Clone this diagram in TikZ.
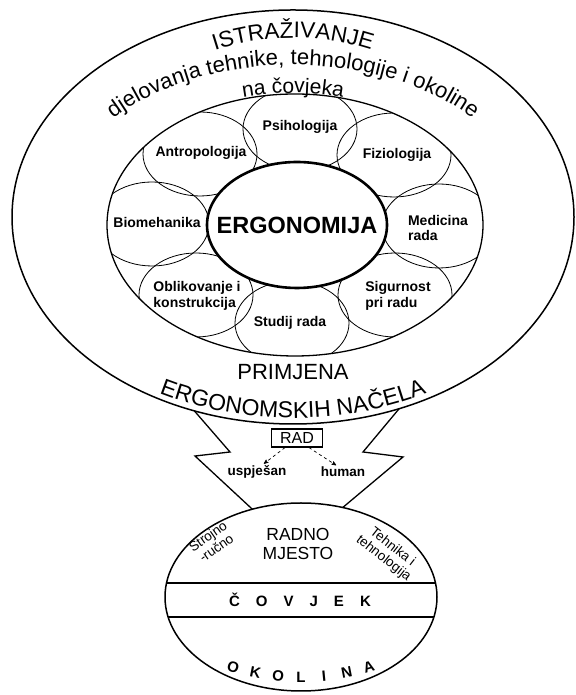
\documentclass[tikz,border=0pt]{standalone}
\usepackage{fontspec}
\setmainfont{Liberation Sans}
\usepackage{tikz}
\usetikzlibrary{arrows}
\usetikzlibrary{shapes.geometric}
\usetikzlibrary{decorations.text}
\tikzset{
    oval/.style = {ellipse, draw=black, inner sep=0pt, outer sep=0pt},
    big_oval/.style = {oval, line width=1.5pt},
    field_oval/.style = {oval, line width=0.8pt, minimum width=114pt, minimum height=84pt},
    field_text/.style = {align=left, inner sep=0pt, font=\fontsize{14}{15.5}\selectfont\bfseries},
    arc_text/.style = {decorate, decoration={text along path, text align=center}},
    bolt_line/.style = {line width=1.3pt, line join=miter},
    dash_arrow/.style = {->, dashed, line width=0.7pt, shorten >=1pt},
    small_text/.style = {inner sep=1pt, font=\fontsize{13.5}{15}\selectfont\bfseries},
    place_text/.style = {align=center, inner sep=0pt, font=\fontsize{13.5}{14.5}\selectfont}
}

\begin{document}
\begin{tikzpicture}[x=1pt, y=1pt, >=stealth']
    \useasboundingbox (0,0) rectangle (575,695);
    % rings
    \node [big_oval, minimum width=562pt, minimum height=414pt] (outer) at (293,478) {};
    \node [big_oval, line width=1.3pt, minimum width=376pt, minimum height=262pt] (ring) at (295,470) {};
    \begin{scope}
        \clip (295,470) ellipse [x radius=188, y radius=131];
        \foreach \name/\x/\y in {psih/300/566, antr/200/541, fiz/394/540, bio/152/471, med/439/469, sig/395/400, stud/292/372, obl/196/400}
            \node [field_oval] (\name) at (\x,\y) {};
    \end{scope}
    \node [oval, fill=white, line width=2.6pt, minimum width=180pt, minimum height=126pt] (ergo) at (297,470) {};
    \node [font=\fontsize{23.5}{25}\selectfont\bfseries] (ergo_t) at (ergo) {ERGONOMIJA};
    % fields
    \node [field_text] (psih_t) at (300,568) {Psihologija};
    \node [field_text] (antr_t) at (201,542) {Antropologija};
    \node [field_text] (fiz_t) at (397,540) {Fiziologija};
    \node [field_text] (bio_t) at (157,472) {Biomehanika};
    \node [field_text] (med_t) at (438,467) {Medicina\\rada};
    \node [field_text] (sig_t) at (398,399) {Sigurnost\\pri radu};
    \node [field_text] (stud_t) at (290,372) {Studij rada};
    \node [field_text] (obl_t) at (197,399) {Oblikovanje i\\konstrukcija};
    % texts in the outer ring
    \path [arc_text, decoration={text={|\fontsize{22.5}{24}\selectfont|ISTRAŽIVANJE}}]
        (293,478) ++(125:215 and 179) arc [start angle=125, end angle=55, x radius=215, y radius=179];
    \path [arc_text, decoration={text={|\fontsize{22}{24}\selectfont|djelovanja tehnike, tehnologije i okoline}}]
        (293,478) ++(165:236 and 152) arc [start angle=165, end angle=15, x radius=236, y radius=152];
    \path [arc_text, decoration={text={|\fontsize{21}{23}\selectfont|na čovjeka}}]
        (293,478) ++(120:190 and 124) arc [start angle=120, end angle=60, x radius=190, y radius=124];
    \node [font=\fontsize{22}{24}\selectfont] (primjena) at (293,323) {PRIMJENA};
    \path [arc_text, decoration={text={|\fontsize{23}{25}\selectfont|ERGONOMSKIH NAČELA}}]
        (293,478) ++(232:280 and 201) arc [start angle=232, end angle=308, x radius=280, y radius=201];
    % work place
    \node [big_oval, minimum width=272pt, minimum height=188pt] (radno) at (301,98) {};
    \begin{scope}
        \clip (301,98) ellipse [x radius=136, y radius=94];
        \draw [line width=1.2pt] ([yshift=14pt]radno.west) -- ([yshift=14pt]radno.east);
        \draw [line width=1.2pt] ([yshift=-20pt]radno.west) -- ([yshift=-20pt]radno.east);
    \end{scope}
    \node [align=center, inner sep=0pt, font=\fontsize{17.5}{18.5}\selectfont] (mjesto) at (298,151) {RADNO\\MJESTO};
    \node [place_text, rotate=35] (strojno) at (212,153) {Strojno\\-ručno};
    \node [place_text, rotate=-38] (tehnika) at (388,142) {Tehnika i\\tehnologija};
    \node [font=\fontsize{15}{16}\selectfont\bfseries] (covjek) at (300,95) {Č\hspace{16pt}O\hspace{16pt}V\hspace{16pt}J\hspace{16pt}E\hspace{16pt}K};
    \foreach \ch [count=\i, evaluate=\i as \ang using 253.3+(\i-1)*5.57, evaluate=\i as \rot using -16.7+(\i-1)*5.57] in {O,K,O,L,I,N,A}
        \node [font=\fontsize{15}{16}\selectfont\bfseries, rotate=\rot] (okolina\i) at ([shift={(301,254)}]\ang:236) {\ch};
    % bolt
    \coordinate (bolt_l1) at (230,243);
    \coordinate (bolt_l2) at (195,239);
    \coordinate (bolt_r1) at (363,243);
    \coordinate (bolt_r2) at (403,238);
    \draw [bolt_line] (outer.243) -- (bolt_l1) -- (bolt_l2) -- (radno.119);
    \draw [bolt_line] (outer.299) -- (bolt_r1) -- (bolt_r2) -- (radno.65);
    \node [draw, line width=1.2pt, minimum width=51pt, minimum height=18pt, inner sep=1pt, font=\fontsize{16}{17}\selectfont] (rad) at (297,257) {RAD};
    \node [small_text] (usp) at (257,223) {uspješan};
    \node [small_text] (hum) at (343,223) {human};
    \draw [dash_arrow] ([xshift=-12pt]rad.south) -- ([xshift=6pt]usp.north);
    \draw [dash_arrow] ([xshift=12pt]rad.south) -- ([xshift=-6pt]hum.north);
\end{tikzpicture}
\end{document}
